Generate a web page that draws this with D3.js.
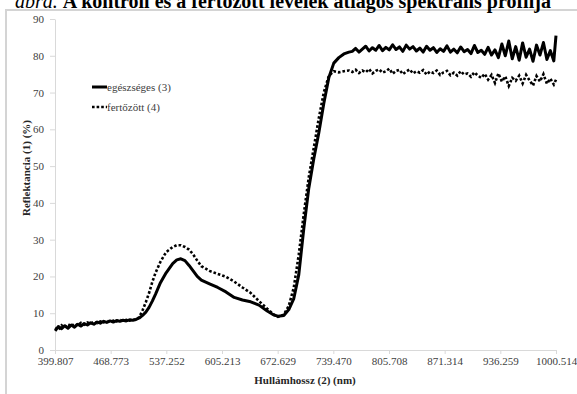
<!DOCTYPE html>
<html>
<head>
<meta charset="utf-8">
<script src="https://cdn.jsdelivr.net/npm/d3@7"></script>
<style>
  body { margin: 0; background: #fff; overflow: hidden; }
  svg { display: block; }
  .axis path, .axis line { stroke: #d9d9d9; }
  .axis text { fill: #404040; font-size: 11px; }
</style>
</head>
<body>
<svg id="chart" width="577" height="394"></svg>
<script>
const serif = "'Liberation Serif', 'Times New Roman', Times, serif";

// wavelength ticks shown on the category axis (nm)
const xTickLabels = [399.807, 468.773, 537.252, 605.213, 672.629, 739.470, 805.708, 871.314, 936.259, 1000.514];
const yTickLabels = [0, 10, 20, 30, 40, 50, 60, 70, 80, 90];

const wavelengths = [
  400, 404, 408, 412, 416, 420, 424, 428, 432, 436, 440, 444, 448, 452, 456, 460, 464, 468, 472, 476, 480, 484, 488, 492, 496,
  500, 504, 508, 512, 516, 520, 524, 530, 537, 545, 550, 555, 560, 565, 570, 575, 580, 590, 600, 610, 620, 630, 640, 650, 660, 668, 673,
  680, 686, 692, 698, 704, 710, 716, 722, 728, 734, 740, 746, 752, 758,
  762, 766, 770, 774, 778, 782, 786, 790, 794, 798,
  802, 806, 810, 814, 818, 822, 826, 830, 834, 838,
  842, 846, 850, 854, 858, 862, 866, 870, 874, 878,
  882, 886, 890, 894, 898, 902, 906, 910, 914, 918,
  922, 926, 930, 934, 938, 942, 946, 950, 954, 958,
  962, 966, 970, 974, 978, 982, 986, 990, 994, 998, 1000.5
];

// egészséges (3)
const healthy = [
  5.2, 6.4, 5.8, 6.6, 5.9, 6.8, 6.2, 7.0, 6.5, 7.2, 6.8, 7.4, 7.0, 7.6, 7.3, 7.8, 7.5, 7.9, 7.6, 8.0, 7.8, 8.1, 7.9, 8.2, 8.1,
  8.3, 8.7, 9.4, 10.3, 11.6, 13.3, 15.2, 18.3, 21.0, 23.5, 24.5, 24.8, 24.3, 23.0, 21.5, 20.0, 19.0, 18.0, 17.0, 15.8, 14.3, 13.6, 13.1, 12.2, 10.6, 9.5, 9.2,
  9.4, 11.0, 14.0, 20.5, 33.0, 44.0, 52.0, 59.0, 67.0, 74.0, 78.0, 79.5, 80.5, 81.0,
  81.2, 82.0, 81.0, 81.8, 82.6, 81.3, 82.2, 81.5, 82.8, 81.4,
  82.3, 81.6, 83.0, 81.7, 82.4, 81.2, 82.9, 81.8, 82.5, 81.3,
  82.1, 81.0, 82.6, 81.5, 82.2, 80.9, 81.9, 81.2, 82.7, 81.0,
  81.8, 80.8, 82.4, 81.1, 81.7, 80.6, 82.8, 80.9, 81.5, 80.4,
  82.3, 80.2, 81.6, 79.5, 83.2, 80.0, 84.0, 79.2, 82.5, 78.8,
  83.5, 79.6, 81.8, 78.5, 82.9, 80.2, 83.6, 79.0, 81.4, 78.6, 85.5
];

// fertőzött (4)
const infected = [
  6.0, 5.4, 6.7, 6.1, 7.0, 6.4, 7.2, 6.7, 7.4, 6.9, 7.5, 7.1, 7.7, 7.3, 7.8, 7.5, 8.0, 7.6, 8.0, 7.8, 8.2, 7.9, 8.2, 8.0, 8.3,
  8.2, 9.0, 10.8, 13.0, 15.5, 18.5, 21.0, 24.0, 26.6, 28.0, 28.5, 28.5, 28.0, 27.3, 26.0, 24.3, 22.8, 21.5, 20.7, 19.9, 18.6, 17.0, 15.5, 13.3, 11.2, 9.6, 9.0,
  9.6, 12.0, 17.0, 26.0, 37.0, 47.0, 55.0, 63.0, 70.0, 74.5, 75.8, 75.5, 75.8, 76.0,
  75.6, 76.2, 75.3, 76.0, 75.5, 76.4, 75.2, 75.9, 76.3, 75.4,
  75.8, 76.5, 75.1, 75.9, 76.2, 75.0, 75.7, 76.3, 75.2, 75.8,
  75.4, 76.1, 74.9, 75.7, 75.3, 76.0, 74.8, 75.5, 75.9, 74.7,
  75.4, 74.6, 75.8, 74.9, 75.2, 74.3, 75.5, 74.6, 74.0, 75.1,
  73.5, 74.8, 72.6, 75.2, 73.0, 74.4, 71.8, 74.0, 73.2, 74.6,
  72.5, 74.8, 73.3, 71.9, 74.5, 73.0, 75.0, 72.4, 73.8, 72.2, 73.5
];

const seriesNames = ["egészséges (3)", "fertőzött (4)"];

const svg = d3.select("#chart").attr("font-family", serif);
const plotLeft = 55, plotRight = 556, plotTop = 19, plotBottom = 350;

// outer frame of the figure
svg.append("rect")
  .attr("x", 6).attr("y", 10)
  .attr("width", 600).attr("height", 420)
  .attr("fill", "none")
  .attr("stroke", "#d4d4d4")
  .attr("stroke-width", 2);

// caption, its upper half is cut off by the page edge as in the source
const cap = svg.append("text")
  .attr("x", 15).attr("y", 8)
  .attr("font-size", 20)
  .attr("font-family", serif)
  .attr("fill", "#000");
cap.append("tspan").attr("font-style", "italic").text("ábra. ");
cap.append("tspan").attr("font-weight", "bold").text("A kontroll és a fertőzött levelek átlagos spektrális profilja");

// category-like x axis: labels are equally spaced
const x = d3.scaleLinear()
  .domain(xTickLabels)
  .range(xTickLabels.map((d, i) => plotLeft + i * (plotRight - plotLeft) / (xTickLabels.length - 1)));

const y = d3.scaleLinear()
  .domain([0, 90])
  .range([plotBottom, plotTop]);

svg.append("g")
  .attr("class", "axis")
  .attr("transform", "translate(0," + plotBottom + ")")
  .call(d3.axisBottom(x).tickValues(xTickLabels).tickFormat(d3.format(".3f")).tickSize(4).tickSizeOuter(0).tickPadding(3))
  .attr("font-family", serif).attr("font-size", 11);

svg.append("g")
  .attr("class", "axis")
  .attr("transform", "translate(" + plotLeft + ",0)")
  .call(d3.axisLeft(y).tickValues(yTickLabels).tickSize(5).tickSizeOuter(0).tickPadding(6))
  .attr("font-family", serif).attr("font-size", 11);

const line = d3.line()
  .x((d, i) => x(wavelengths[i]))
  .y(d => y(d));

svg.append("path")
  .datum(infected)
  .attr("fill", "none")
  .attr("stroke", "#000")
  .attr("stroke-width", 2.6)
  .attr("stroke-dasharray", "2.6,2")
  .attr("d", line);

svg.append("path")
  .datum(healthy)
  .attr("fill", "none")
  .attr("stroke", "#000")
  .attr("stroke-width", 3)
  .attr("stroke-linejoin", "round")
  .attr("d", line);

// legend
const legend = svg.append("g");
seriesNames.forEach((name, i) => {
  const ly = 87 + i * 20;
  legend.append("line")
    .attr("x1", 92).attr("x2", 107)
    .attr("y1", ly).attr("y2", ly)
    .attr("stroke", "#000")
    .attr("stroke-width", i === 0 ? 3 : 2.6)
    .attr("stroke-dasharray", i === 0 ? null : "2.6,2");
  legend.append("text")
    .attr("x", 107).attr("y", ly + 4)
    .attr("font-size", 11)
    .attr("font-family", serif)
    .attr("fill", "#404040")
    .text(name);
});

// axis titles
svg.append("text")
  .attr("transform", "translate(30,168) rotate(-90)")
  .attr("text-anchor", "middle")
  .attr("font-size", 11)
  .attr("font-weight", "bold")
  .attr("font-family", serif)
  .attr("fill", "#262626")
  .text("Reflektancia (1) (%)");

svg.append("text")
  .attr("x", 305).attr("y", 384)
  .attr("text-anchor", "middle")
  .attr("font-size", 11)
  .attr("font-weight", "bold")
  .attr("font-family", serif)
  .attr("fill", "#262626")
  .text("Hullámhossz (2) (nm)");
</script>
</body>
</html>
